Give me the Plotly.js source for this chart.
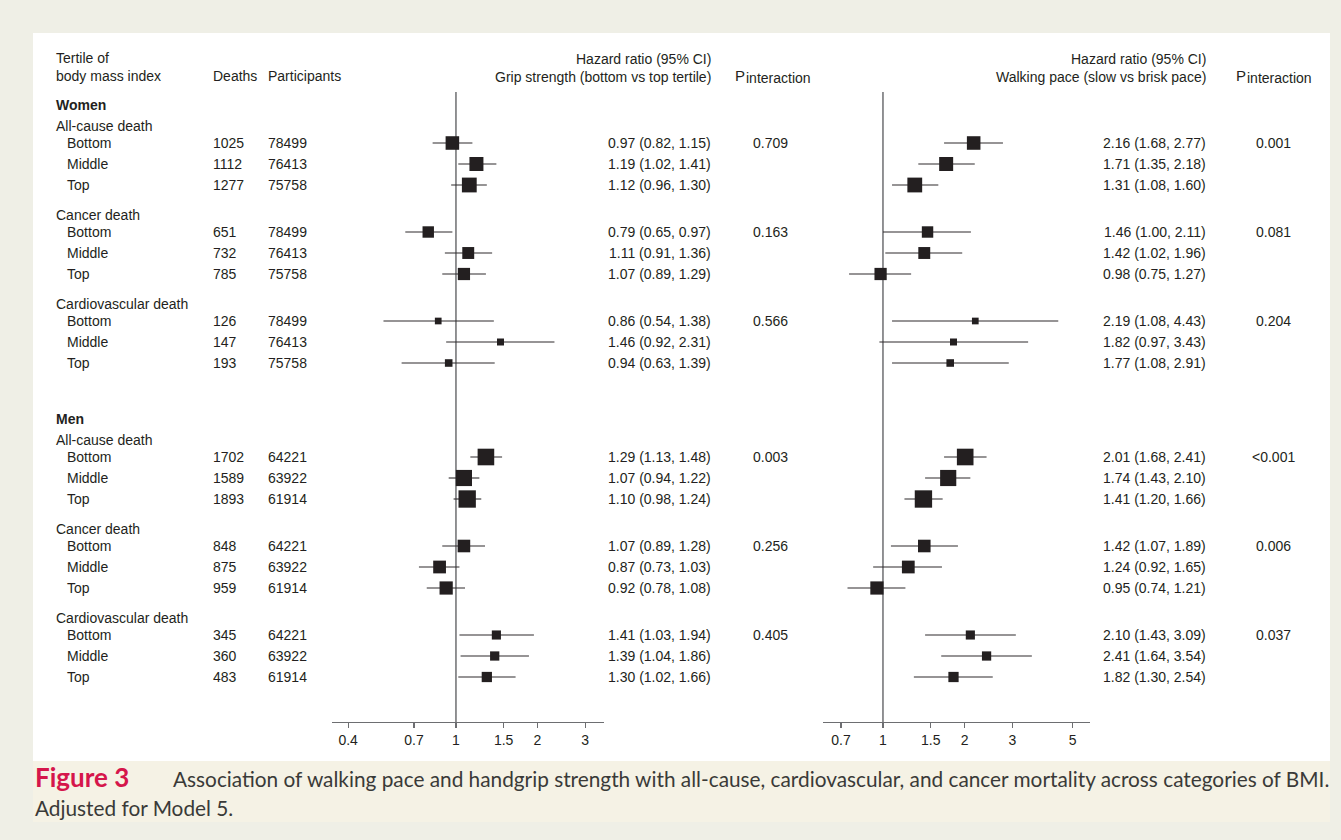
<!DOCTYPE html>
<html>
<head>
<meta charset="utf-8">
<script src="https://cdn.plot.ly/plotly-3.0.1.min.js"></script>
<style>
  html, body { margin: 0; padding: 0; background: #efefe6; }
  #chart { width: 1341px; height: 840px; }
</style>
</head>
<body>
<div id="chart"></div>
<script>
// ---------------- DATA ----------------
const sexes = ['Women', 'Men'];
const causes = ['All-cause death', 'Cancer death', 'Cardiovascular death'];
const tertiles = ['Bottom', 'Middle', 'Top'];

const deaths = [1025, 1112, 1277, 651, 732, 785, 126, 147, 193,
                1702, 1589, 1893, 848, 875, 959, 345, 360, 483];
const participants = [78499, 76413, 75758, 78499, 76413, 75758, 78499, 76413, 75758,
                      64221, 63922, 61914, 64221, 63922, 61914, 64221, 63922, 61914];

const gripHR = [0.97, 1.19, 1.12, 0.79, 1.11, 1.07, 0.86, 1.46, 0.94,
                1.29, 1.07, 1.10, 1.07, 0.87, 0.92, 1.41, 1.39, 1.30];
const gripLo = [0.82, 1.02, 0.96, 0.65, 0.91, 0.89, 0.54, 0.92, 0.63,
                1.13, 0.94, 0.98, 0.89, 0.73, 0.78, 1.03, 1.04, 1.02];
const gripHi = [1.15, 1.41, 1.30, 0.97, 1.36, 1.29, 1.38, 2.31, 1.39,
                1.48, 1.22, 1.24, 1.28, 1.03, 1.08, 1.94, 1.86, 1.66];
const gripP = ['0.709', '0.163', '0.566', '0.003', '0.256', '0.405'];

const walkHR = [2.16, 1.71, 1.31, 1.46, 1.42, 0.98, 2.19, 1.82, 1.77,
                2.01, 1.74, 1.41, 1.42, 1.24, 0.95, 2.10, 2.41, 1.82];
const walkLo = [1.68, 1.35, 1.08, 1.00, 1.02, 0.75, 1.08, 0.97, 1.08,
                1.68, 1.43, 1.20, 1.07, 0.92, 0.74, 1.43, 1.64, 1.30];
const walkHi = [2.77, 2.18, 1.60, 2.11, 1.96, 1.27, 4.43, 3.43, 2.91,
                2.41, 2.10, 1.66, 1.89, 1.65, 1.21, 3.09, 3.54, 2.54];
const walkP = ['0.001', '0.081', '0.204', '<0.001', '0.006', '0.037'];

const gripTicks = [0.4, 0.7, 1, 1.5, 2, 3];
const gripTickText = ['0.4', '0.7', '1', '1.5', '2', '3'];
const walkTicks = [0.7, 1, 1.5, 2, 3, 5];
const walkTickText = ['0.7', '1', '1.5', '2', '3', '5'];

const captionLabel = 'Figure 3';
const captionText1 = 'Association of walking pace and handgrip strength with all-cause, cardiovascular, and cancer mortality across categories of BMI.';
const captionText2 = 'Adjusted for Model 5.';

// ---------------- LAYOUT HELPERS ----------------
const W = 1341, H = 840;
const px = v => v / W;
const py = v => 1 - v / H;
const AXIS_Y = 722;
const TXT = '#231f20';
const FONT = 'Liberation Sans, Arial, Helvetica, sans-serif';
const CAP_FONT = 'Lato, Open Sans, sans-serif';

// row positions (pixel rows, used as y data on a reversed linear axis)
const sexY = [], causeY = [], rowY = [];
let yy = 105;
sexes.forEach((s, si) => {
  sexY.push(yy);
  causes.forEach((c, ci) => {
    yy += (ci === 0) ? 21 : 30;
    causeY.push(yy);
    tertiles.forEach((t, ti) => { yy += (ti === 0) ? 17 : 21; rowY.push(yy); });
  });
  yy += 56;
});

const fmt = v => v.toFixed(2);
const markerSize = deaths.map(d => 3 + 0.33 * Math.sqrt(d));

function forestTrace(hr, lo, hi, xa) {
  return {
    type: 'scatter', mode: 'markers', xaxis: xa, yaxis: 'y',
    x: hr, y: rowY,
    marker: { symbol: 'square', size: markerSize, color: TXT, opacity: 1, line: { width: 0 } },
    error_x: { type: 'data', symmetric: false,
      array: hr.map((v, i) => hi[i] - v),
      arrayminus: hr.map((v, i) => v - lo[i]),
      width: 0, thickness: 1.1, color: '#2e2b2c' },
    hoverinfo: 'x', showlegend: false
  };
}
const traces = [
  forestTrace(gripHR, gripLo, gripHi, 'x'),
  forestTrace(walkHR, walkLo, walkHi, 'x2')
];

// ---------------- ANNOTATIONS ----------------
const ann = [];
function addText(text, x, y, opts = {}) {
  ann.push(Object.assign({
    text: text, x: px(x), xref: 'paper', y: y, yref: 'y',
    xanchor: 'left', yanchor: 'middle', showarrow: false,
    font: { family: FONT, size: 14, color: TXT }
  }, opts));
}

// header
addText('Tertile of', 54, 58);
addText('body mass index', 54, 76);
addText('Deaths', 211, 76);
addText('Participants', 266, 76);
addText('Hazard ratio (95% CI)', 713, 59, { xanchor: 'right' });
addText('Grip strength (bottom vs top tertile)', 713, 77, { xanchor: 'right' });
addText('P', 733, 75, { font: { family: FONT, size: 15, color: TXT } });
addText('interaction', 744, 78);
addText('Hazard ratio (95% CI)', 1208, 59, { xanchor: 'right' });
addText('Walking pace (slow vs brisk pace)', 1208, 77, { xanchor: 'right' });
addText('P', 1234, 75, { font: { family: FONT, size: 15, color: TXT } });
addText('interaction', 1245, 78);

sexes.forEach((s, si) => addText('<b>' + s + '</b>', 54, sexY[si]));
causeY.forEach((y, k) => addText(causes[k % causes.length], 54, y));
rowY.forEach((y, i) => {
  addText(tertiles[i % tertiles.length], 65, y);
  addText(String(deaths[i]), 211, y);
  addText(String(participants[i]), 266, y);
  addText(fmt(gripHR[i]) + ' (' + fmt(gripLo[i]) + ', ' + fmt(gripHi[i]) + ')', 713, y, { xanchor: 'right' });
  addText(fmt(walkHR[i]) + ' (' + fmt(walkLo[i]) + ', ' + fmt(walkHi[i]) + ')', 1208, y, { xanchor: 'right' });
});
gripP.forEach((p, k) => addText(p, 770, rowY[k * 3], { xanchor: 'center' }));
walkP.forEach((p, k) => addText(p, 1273, rowY[k * 3], { xanchor: 'center' }));

// caption
ann.push({
  text: '<b>' + captionLabel + '</b>', x: px(33), y: py(777), xref: 'paper', yref: 'paper',
  xanchor: 'left', yanchor: 'middle', showarrow: false,
  font: { family: CAP_FONT, size: 26, weight: 900, color: '#d5164b' }
});
ann.push({
  text: captionText1, x: px(171), y: py(778), xref: 'paper', yref: 'paper',
  xanchor: 'left', yanchor: 'middle', showarrow: false,
  font: { family: CAP_FONT, size: 20.8, color: '#3a3a38' }
});
ann.push({
  text: captionText2, x: px(33), y: py(807), xref: 'paper', yref: 'paper',
  xanchor: 'left', yanchor: 'middle', showarrow: false,
  font: { family: CAP_FONT, size: 20.8, color: '#3a3a38' }
});

// ---------------- SHAPES ----------------
const REF_TOP = 92;
const shapes = [
  { type: 'rect', xref: 'paper', yref: 'paper', x0: px(33), x1: px(1330), y0: py(33), y1: py(761),
    fillcolor: '#ffffff', line: { width: 0 }, layer: 'below' },
  { type: 'rect', xref: 'paper', yref: 'paper', x0: px(33), x1: px(1330), y0: py(761), y1: py(822),
    fillcolor: '#f5f2e5', line: { width: 0 }, layer: 'below' },
  { type: 'line', xref: 'x', yref: 'y', x0: 1, x1: 1, y0: REF_TOP, y1: AXIS_Y,
    line: { color: '#6d6e71', width: 1.5 }, layer: 'below' },
  { type: 'line', xref: 'x2', yref: 'y', x0: 1, x1: 1, y0: REF_TOP, y1: AXIS_Y,
    line: { color: '#6d6e71', width: 1.5 }, layer: 'below' }
];

const axisCommon = {
  type: 'log', anchor: 'y', showline: true, linecolor: '#6d6e71', linewidth: 1.2,
  ticks: 'outside', ticklen: 5, tickwidth: 1.2, tickcolor: '#6d6e71',
  showgrid: false, zeroline: false, fixedrange: true,
  tickfont: { family: FONT, size: 14, color: TXT }
};

const layout = {
  width: W, height: H,
  margin: { l: 0, r: 0, t: 0, b: 0, pad: 0 },
  paper_bgcolor: '#efefe6',
  plot_bgcolor: 'rgba(0,0,0,0)',
  showlegend: false,
  xaxis: Object.assign({}, axisCommon, {
    domain: [px(332), px(604)],
    range: [Math.log10(0.3486), Math.log10(3.52)],
    tickvals: gripTicks, ticktext: gripTickText
  }),
  xaxis2: Object.assign({}, axisCommon, {
    domain: [px(823), px(1090)],
    range: [Math.log10(0.601), Math.log10(5.8)],
    tickvals: walkTicks, ticktext: walkTickText
  }),
  yaxis: {
    domain: [1 - AXIS_Y / H, 1], range: [AXIS_Y, 0],
    visible: false, fixedrange: true
  },
  annotations: ann,
  shapes: shapes
};

Plotly.newPlot('chart', traces, layout, { displayModeBar: false, staticPlot: true });
</script>
</body>
</html>
